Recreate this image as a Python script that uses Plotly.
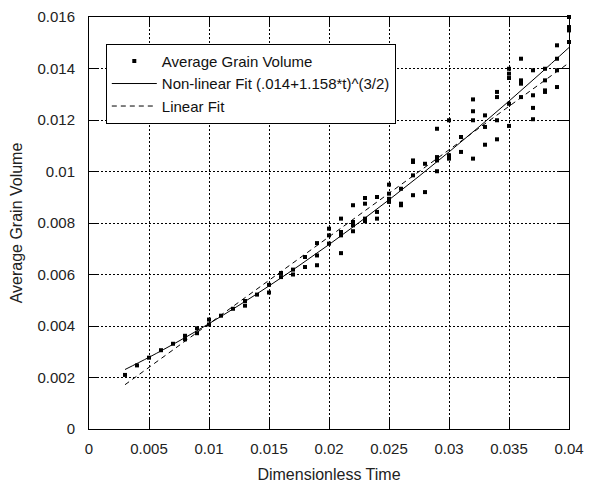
import plotly.graph_objects as go

# ---- data ----
t_points = [0.003, 0.004, 0.005, 0.006, 0.007,
            0.008, 0.008, 0.009, 0.009, 0.010, 0.010,
            0.011, 0.012, 0.013, 0.013, 0.014,
            0.015, 0.015, 0.016, 0.016, 0.017, 0.017,
            0.018, 0.018, 0.019, 0.019, 0.019,
            0.020, 0.020, 0.020,
            0.021, 0.021, 0.021, 0.021,
            0.022, 0.022, 0.022, 0.022,
            0.023, 0.023, 0.023, 0.023,
            0.024, 0.024, 0.024,
            0.025, 0.025, 0.025, 0.025,
            0.026, 0.026, 0.026,
            0.027, 0.027, 0.027, 0.027,
            0.028, 0.028,
            0.029, 0.029, 0.029, 0.029,
            0.030, 0.030, 0.030,
            0.031, 0.031,
            0.032, 0.032, 0.032, 0.032,
            0.033, 0.033, 0.033,
            0.034, 0.034, 0.034, 0.034,
            0.035, 0.035, 0.035, 0.035, 0.035,
            0.036, 0.036, 0.036, 0.036,
            0.037, 0.037, 0.037, 0.037,
            0.038, 0.038, 0.038, 0.038,
            0.039, 0.039, 0.039, 0.039,
            0.040, 0.040, 0.040, 0.040]
v_points = [0.0021, 0.00247, 0.00277, 0.00306, 0.00331,
            0.00362, 0.00348, 0.00391, 0.00372, 0.00425, 0.00406,
            0.0044, 0.00467, 0.00497, 0.00479, 0.00522,
            0.0056, 0.0053, 0.00606, 0.0059, 0.00619, 0.0060,
            0.00668, 0.00629, 0.00722, 0.00674, 0.00636,
            0.00778, 0.00752, 0.0072,
            0.00817, 0.00765, 0.00752, 0.00683,
            0.00869, 0.00804, 0.00791, 0.00768,
            0.00897, 0.00875, 0.00817, 0.00807,
            0.00901, 0.00843, 0.00817,
            0.00949, 0.00914, 0.00894, 0.00882,
            0.00933, 0.00875, 0.00869,
            0.01043, 0.01037, 0.00985, 0.00908,
            0.0103, 0.0092,
            0.01166, 0.01056, 0.01043, 0.01001,
            0.01199, 0.01063, 0.0105,
            0.01134, 0.01076,
            0.0128, 0.01234, 0.01199, 0.0105,
            0.01218, 0.01173, 0.01104,
            0.01309, 0.01289, 0.01199, 0.01125,
            0.01399, 0.0138, 0.01363, 0.01263, 0.01177,
            0.01438, 0.01354, 0.01341, 0.01289,
            0.01393, 0.01296, 0.01247, 0.01203,
            0.01399, 0.01354, 0.01315, 0.01309,
            0.0149, 0.01438, 0.01393, 0.01328,
            0.0160, 0.01561, 0.01548, 0.01503]

# Non-linear fit curve values, (.014+1.158*t)^(3/2)
t_nonlin = [0.003, 0.005, 0.0075, 0.010, 0.0125, 0.015, 0.0175, 0.020,
            0.0225, 0.025, 0.0275, 0.030, 0.0325, 0.035, 0.0375, 0.040]
v_nonlin = [0.002310, 0.002784, 0.003417, 0.004091, 0.004805, 0.005556,
            0.006343, 0.007163, 0.008016, 0.008901, 0.009816, 0.010760,
            0.011733, 0.012734, 0.013761, 0.014815]

# Linear fit end points
t_lin = [0.003, 0.040]
v_lin = [0.00172, 0.01422]

x_ticks = [0, 0.005, 0.01, 0.015, 0.02, 0.025, 0.03, 0.035, 0.04]
x_ticklabels = ["0", "0.005", "0.01", "0.015", "0.02", "0.025", "0.03", "0.035", "0.04"]
y_ticks = [0, 0.002, 0.004, 0.006, 0.008, 0.01, 0.012, 0.014, 0.016]
y_ticklabels = ["0", "0.002", "0.004", "0.006", "0.008", "0.01", "0.012", "0.014", "0.016"]

FONT = "Liberation Sans, Arial, sans-serif"

fig = go.Figure()
fig.add_trace(go.Scatter(
    x=t_points, y=v_points, mode="markers", name="Average Grain Volume",
    marker=dict(symbol="square", size=4, color="black", line=dict(width=0)),
    cliponaxis=False,
))
fig.add_trace(go.Scatter(
    x=t_nonlin, y=v_nonlin, mode="lines", name="Non-linear Fit (.014+1.158*t)^(3/2)",
    line=dict(color="black", width=1, shape="spline"),
))
fig.add_trace(go.Scatter(
    x=t_lin, y=v_lin, mode="lines", name="Linear Fit",
    line=dict(color="black", width=1, dash="5px,4px"),
))

axis_common = dict(
    showline=True, linecolor="black", linewidth=1, mirror="ticks",
    ticks="inside", ticklen=10, tickcolor="black", tickwidth=1,
    showgrid=True, gridcolor="black", gridwidth=1, griddash="2px,2px",
    zeroline=False, automargin=False, ticklabeloverflow="allow",
    tickfont=dict(family=FONT, size=15, color="#222"),
)

fig.update_xaxes(
    range=[0, 0.04], tickvals=x_ticks, ticktext=x_ticklabels,
    title=dict(text="Dimensionless Time", font=dict(family=FONT, size=16, color="#222"), standoff=12),
    ticklabelstandoff=6,
    **axis_common,
)
fig.update_yaxes(
    range=[0, 0.016], tickvals=y_ticks, ticktext=y_ticklabels,
    title=dict(text="Average Grain Volume", font=dict(family=FONT, size=16, color="#222"), standoff=10),
    ticklabelstandoff=10,
    **axis_common,
)

# page body adds an 8px offset, so the figure is sized to fit the window
fig.update_layout(
    width=586, height=480,
    margin=dict(l=81, r=25, t=9, b=59),
    paper_bgcolor="white", plot_bgcolor="white",
    showlegend=True,
    legend=dict(
        x=0.035, y=0.935, xanchor="left", yanchor="top",
        bgcolor="white", bordercolor="black", borderwidth=1,
        font=dict(family=FONT, size=15, color="#111"),
        itemwidth=45, tracegroupgap=0,
    ),
)

fig.write_html("out.html")
